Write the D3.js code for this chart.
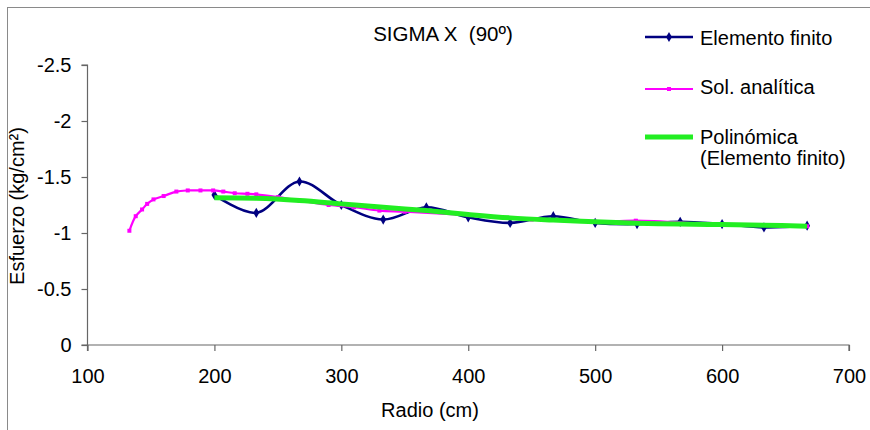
<!DOCTYPE html>
<html><head><meta charset="utf-8">
<script src="https://cdn.jsdelivr.net/npm/d3@7"></script>
<style>body{margin:0;background:#fff}svg{display:block}text{font-family:"Liberation Sans",Arial,sans-serif}</style>
</head><body>
<svg id="chart" width="870" height="430"></svg>
<script>
const title = "SIGMA X  (90º)";
const xLabel = "Radio (cm)";
const yLabel = "Esfuerzo (kg/cm²)";
const seriesNames = ["Elemento finito", "Sol. analítica", "Polinómica", "(Elemento finito)"];
const xTicks = [100, 200, 300, 400, 500, 600, 700];
const yTicks = [0, -0.5, -1, -1.5, -2, -2.5];

const feRadio = [200, 233, 267, 300, 333, 367, 400, 433, 467, 500, 533, 567, 600, 633, 667];
const feValues = [-1.34, -1.18, -1.46, -1.25, -1.12, -1.23, -1.14, -1.09, -1.15, -1.09, -1.08, -1.10, -1.08, -1.05, -1.065];

const anRadio = [133, 138, 143, 147, 152, 160, 170, 179, 189, 199, 207, 216, 226, 233, 250, 267, 290, 310, 330, 350, 400, 450, 500, 532, 600, 667];
const anValues = [-1.02, -1.15, -1.21, -1.26, -1.30, -1.33, -1.37, -1.38, -1.38, -1.38, -1.37, -1.355, -1.35, -1.345, -1.32, -1.29, -1.25, -1.23, -1.20, -1.19, -1.16, -1.12, -1.10, -1.11, -1.075, -1.06];

const polyRadio = [200, 233, 267, 300, 333, 367, 400, 433, 467, 500, 533, 567, 600, 633, 667];
const polyValues = [-1.315, -1.31, -1.29, -1.26, -1.23, -1.20, -1.165, -1.135, -1.115, -1.10, -1.088, -1.08, -1.075, -1.07, -1.06];

const svg = d3.select("#chart");
const x = d3.scaleLinear().domain([100, 700]).range([87.5, 849]);
const y = d3.scaleLinear().domain([0, -2.5]).range([345, 65]);

// outer frame
svg.append("rect").attr("x", 7.5).attr("y", 7.5).attr("width", 900).attr("height", 500)
  .attr("fill", "none").attr("stroke", "#8a8a8a").attr("stroke-width", 1);

// axes
const xAxis = svg.append("g").attr("transform", "translate(0,345)")
  .call(d3.axisBottom(x).tickValues(xTicks).tickSize(6).tickPadding(18).tickFormat(d3.format("d")));
const yAxis = svg.append("g").attr("transform", "translate(87.5,0)")
  .call(d3.axisLeft(y).tickValues(yTicks).tickSize(6).tickPadding(10).tickFormat(d => String(d)));
[xAxis, yAxis].forEach(g => {
  g.selectAll("path,line").attr("stroke", "#666").attr("stroke-width", 1.2);
  g.selectAll("text").attr("fill", "#000").style("font-size", "20px")
    .style("font-family", '"Liberation Sans", Arial, sans-serif');
});
xAxis.select(".domain").attr("d", `M${x(100)},6V0H${x(700)}V6`);
yAxis.select(".domain").attr("d", `M-6,${y(-2.5)}H0V${y(0)}H-6`);

// series
const line = (xs, vs, curve) => d3.line().x(i => x(xs[i])).y(i => y(vs[i])).curve(curve)(d3.range(xs.length));
const smooth = d3.curveCatmullRom.alpha(0.5);

svg.append("path").attr("d", line(feRadio, feValues, smooth))
  .attr("fill", "none").attr("stroke", "#000080").attr("stroke-width", 2.6);
svg.append("g").selectAll("path").data(d3.range(feRadio.length)).join("path")
  .attr("transform", i => `translate(${x(feRadio[i])},${y(feValues[i])})`)
  .attr("d", d3.symbol(d3.symbolDiamond, 30)()).attr("fill", "#000080");

svg.append("path").attr("d", line(anRadio, anValues, smooth))
  .attr("fill", "none").attr("stroke", "#ff00ff").attr("stroke-width", 2.2);
svg.append("g").selectAll("rect").data(d3.range(anRadio.length)).join("rect")
  .attr("x", i => x(anRadio[i]) - 2).attr("y", i => y(anValues[i]) - 2)
  .attr("width", 4).attr("height", 4).attr("fill", "#ff00ff");

svg.append("path").attr("d", line(polyRadio, polyValues, smooth))
  .attr("fill", "none").attr("stroke", "#22ee22").attr("stroke-width", 5);

// title & axis titles
svg.append("text").attr("x", 443).attr("y", 41).attr("text-anchor", "middle")
  .style("font-size", "20.5px").style("white-space", "pre").text(title);
svg.append("text").attr("x", 430).attr("y", 417).attr("text-anchor", "middle")
  .style("font-size", "20px").text(xLabel);
svg.append("text").attr("transform", "translate(24,206) rotate(-90)").attr("text-anchor", "middle")
  .style("font-size", "20px").text(yLabel);

// legend
const lg = svg.append("g");
lg.append("line").attr("x1", 645).attr("x2", 693).attr("y1", 37).attr("y2", 37).attr("stroke", "#000080").attr("stroke-width", 2.6);
lg.append("path").attr("transform", "translate(669,37)").attr("d", d3.symbol(d3.symbolDiamond, 30)()).attr("fill", "#000080");
lg.append("line").attr("x1", 645).attr("x2", 693).attr("y1", 89).attr("y2", 89).attr("stroke", "#ff00ff").attr("stroke-width", 2.2);
lg.append("rect").attr("x", 667).attr("y", 87).attr("width", 4).attr("height", 4).attr("fill", "#ff00ff");
lg.append("line").attr("x1", 645).attr("x2", 693).attr("y1", 137).attr("y2", 137).attr("stroke", "#22ee22").attr("stroke-width", 5);
const ly = [45, 94, 144, 165];
seriesNames.forEach((n, i) => {
  lg.append("text").attr("x", 700).attr("y", ly[i]).style("font-size", "20px").text(n);
});
</script>
</body></html>
